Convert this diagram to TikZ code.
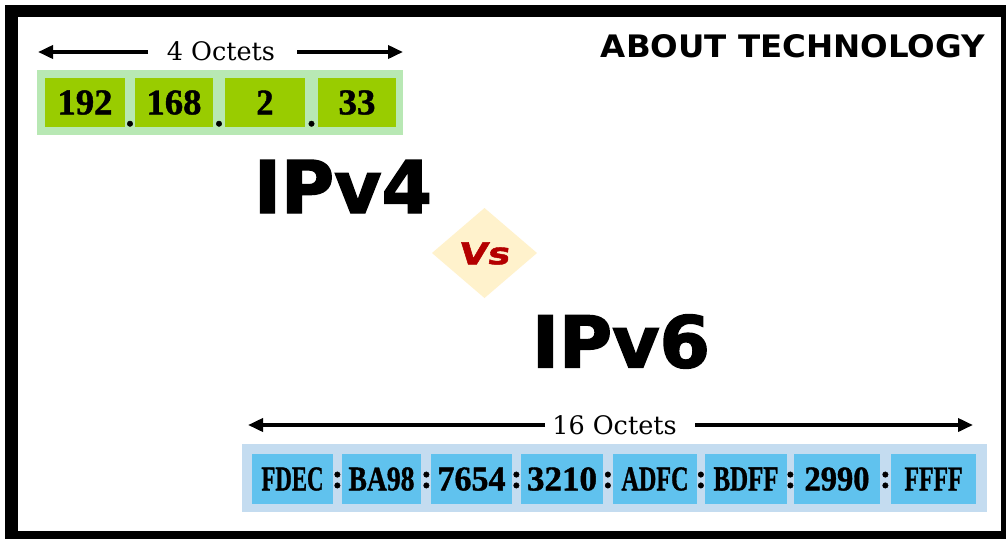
\documentclass[tikz,border=0pt]{standalone}
\usepackage{fontspec}
\usepackage{graphicx}
\usetikzlibrary{arrows.meta}
\newfontfamily\numfont{Liberation Serif Bold}[FakeBold=1.2]
\newfontfamily\lblfont{DejaVu Serif}
\newfontfamily\titlefont{DejaVu Sans}
\newfontfamily\heavyfont{DejaVu Sans Bold}[FakeBold=2]
\newfontfamily\vsfont{DejaVu Sans Bold}[FakeBold=1.5,FakeSlant=0.12]
\definecolor{gbg}{RGB}{184,232,180}
\definecolor{gbox}{RGB}{153,204,0}
\definecolor{bbg}{RGB}{196,220,240}
\definecolor{bbox}{RGB}{96,194,238}
\definecolor{cream}{RGB}{255,242,204}
\definecolor{vsred}{RGB}{180,0,0}
\newcommand\fitto[3]{\resizebox{#1pt}{#2pt}{#3}}
\tikzset{
  px/.style={x=1pt,y=-1pt},
  greenbox/.style={fill=gbox,inner sep=0pt,minimum height=49pt},
  bluebox/.style={fill=bbox,inner sep=0pt,minimum height=50pt},
  octlbl/.style={inner sep=0pt,font=\lblfont\fontsize{25.5}{30}\selectfont},
  arr/.style={line width=3.6pt,-{Triangle[length=15pt,width=13pt]}},
  sep/.style={inner sep=0pt,font=\numfont\fontsize{34}{40}\selectfont},
  plain/.style={inner sep=0pt}
}
\begin{document}
\begin{tikzpicture}[px]
\useasboundingbox (0,0) rectangle (1006,539);
\fill[white] (0,0) rectangle (1006,539);
% frame
\fill[black] (5,5) rectangle (1006,539);
\fill[white] (18,17) rectangle (1001,531);

% title
\node[plain] (title) at (793,46.5) {\fitto{384}{23}{\titlefont\bfseries ABOUT TECHNOLOGY}};

% IPv4 top
\node[octlbl] (oct4) at (221,51.5) {4 Octets};
\coordinate (l4s) at (148,52);
\coordinate (l4t) at (38,52);
\coordinate (r4s) at (297,52);
\coordinate (r4t) at (403,52);
\draw[arr] (l4s) -- (l4t);
\draw[arr] (r4s) -- (r4t);

\fill[gbg] (37,70) rectangle (403,135);
\node[greenbox,minimum width=80pt] (g1) at (85,102.5) {\fitto{55}{24}{\numfont 192}};
\node[greenbox,minimum width=78pt] (g2) at (174,102.5) {\fitto{55}{24}{\numfont 168}};
\node[greenbox,minimum width=80pt] (g3) at (265,102.5) {\fitto{17}{24}{\numfont 2}};
\node[greenbox,minimum width=78pt] (g4) at (357,102.5) {\fitto{37}{24}{\numfont 33}};
\node[sep,anchor=base] (d1) at (130,126) {.};
\node[sep,anchor=base] (d2) at (219,126) {.};
\node[sep,anchor=base] (d3) at (311.5,126) {.};

% IPv4 / Vs / IPv6
\node[plain] (ipv4) at (343,186.5) {\fitto{178}{53}{\heavyfont IPv4}};
\fill[cream] (432,253) -- (484.5,208) -- (537,253) -- (484.5,298) -- cycle;
\node[plain] (vs) at (483.5,253.5) {\fitto{51}{22}{\vsfont\color{vsred}Vs}};
\node[plain] (ipv6) at (621,341.5) {\fitto{178}{53}{\heavyfont IPv6}};

% IPv6 bottom
\node[octlbl] (oct16) at (614.5,425) {16 Octets};
\coordinate (l6s) at (545,425);
\coordinate (l6t) at (248,425);
\coordinate (r6s) at (695,425);
\coordinate (r6t) at (973,425);
\draw[arr] (l6s) -- (l6t);
\draw[arr] (r6s) -- (r6t);

\fill[bbg] (242,444) rectangle (987,512);
\node[bluebox,minimum width=81pt] (h1) at (292.5,479) {\fitto{62}{23}{\numfont FDEC}};
\node[bluebox,minimum width=79pt] (h2) at (381.5,479) {\fitto{66}{23}{\numfont BA98}};
\node[bluebox,minimum width=81pt] (h3) at (471.5,479) {\fitto{68}{23}{\numfont 7654}};
\node[bluebox,minimum width=82pt] (h4) at (562,479) {\fitto{70}{23}{\numfont 3210}};
\node[bluebox,minimum width=84pt] (h5) at (655,479) {\fitto{67}{23}{\numfont ADFC}};
\node[bluebox,minimum width=82pt] (h6) at (746,479) {\fitto{65}{23}{\numfont BDFF}};
\node[bluebox,minimum width=86pt] (h7) at (837,479) {\fitto{65}{23}{\numfont 2990}};
\node[bluebox,minimum width=85pt] (h8) at (933.5,479) {\fitto{58}{23}{\numfont FFFF}};
\node[sep] (c1) at (337.5,480) {:};
\node[sep] (c2) at (426.5,480) {:};
\node[sep] (c3) at (516.5,480) {:};
\node[sep] (c4) at (608,480) {:};
\node[sep] (c5) at (701,480) {:};
\node[sep] (c6) at (790.5,480) {:};
\node[sep] (c7) at (885.5,480) {:};
\end{tikzpicture}
\end{document}
